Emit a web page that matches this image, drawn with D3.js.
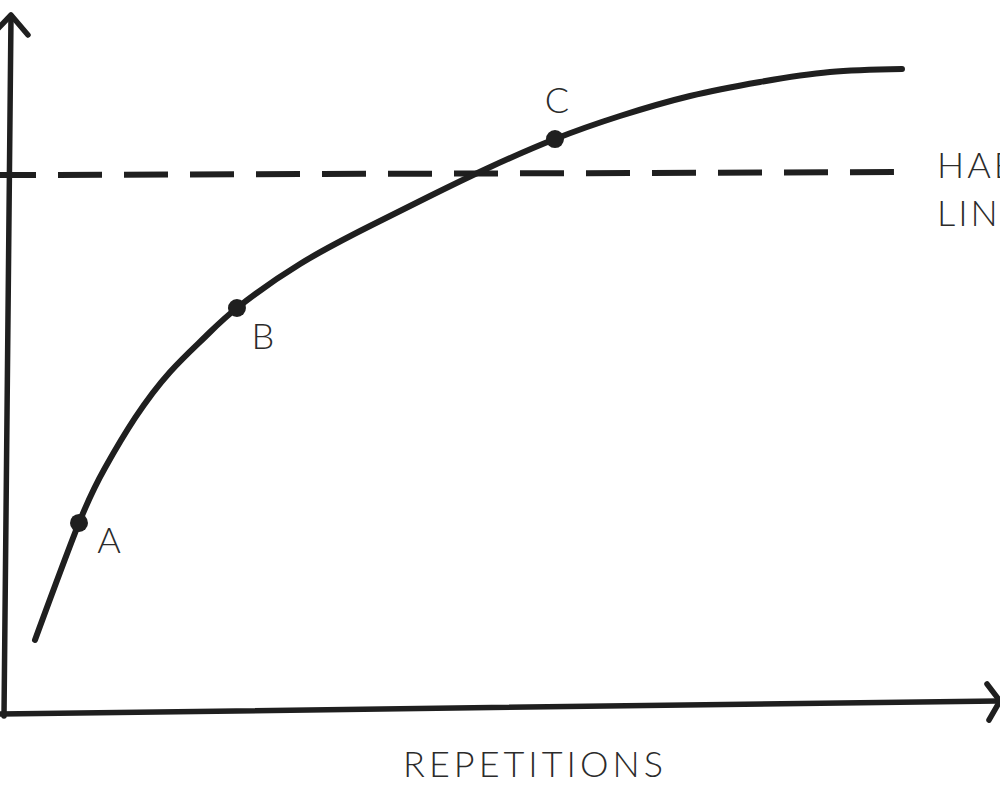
<!DOCTYPE html>
<html>
<head>
<meta charset="utf-8">
<script src="https://cdn.jsdelivr.net/npm/d3@7"></script>
<style>
  html, body { margin: 0; padding: 0; background: #fff; overflow: hidden; }
  svg { display: block; }
</style>
</head>
<body>
<svg id="chart" width="1000" height="800"></svg>
<script>
// ---- data (abstract units: repetitions 0..100, habit strength 0..100) ----
const curveX = [2.55, 7.04, 9.69, 12.76, 16.33, 19.90, 23.16, 29.59, 36.73, 42.86, 48.57, 55.61, 62.24, 69.39, 76.53, 83.67, 91.02];
const curveY = [10.57, 27.29, 35.14, 42.29, 48.86, 53.86, 58.00, 64.29, 69.71, 74.00, 77.86, 82.14, 85.43, 88.29, 90.29, 91.71, 92.14];
const markerLabels = ["A", "B", "C"];
const markerX = [7.04, 23.16, 55.61];
const markerY = [27.29, 58.00, 82.14];
const habitLineValue = 77.2;
const habitLineEnd = 90.2;
const habitLabel = ["HABIT", "LINE"];
const xAxisLabel = "REPETITIONS";

// ---- layout ----
const svg = d3.select("#chart");
const ink = "#1f1f1f";
const textColor = "#2b2b2b";
const x = d3.scaleLinear().domain([0, 100]).range([10, 990]);
const y = d3.scaleLinear().domain([0, 100]).range([714, 14]);

// axes (hand-drawn feel: slight tilt)
const axisG = svg.append("g").attr("stroke", ink).attr("fill", "none")
  .attr("stroke-width", 5.5).attr("stroke-linecap", "round").attr("stroke-linejoin", "round");
// y axis
axisG.append("path").attr("d", `M${x(0) - 6},${y(0) + 2} L${x(0) + 1},${y(100) + 2}`);
axisG.append("path").attr("d", `M${x(0) - 19},${y(100) + 22} L${x(0) + 1},${y(100) + 1} L${x(0) + 18},${y(100) + 21}`);
// x axis
axisG.append("path").attr("d", `M${x(0) - 12},${y(0)} L${x(100) + 8},${y(0) - 13}`);
axisG.append("path").attr("d", `M${x(100) - 3},${y(0) - 30} L${x(100) + 10},${y(0) - 13} L${x(100) - 1},${y(0) + 6}`);

// habit line (dashed)
svg.append("line")
  .attr("x1", x(0) - 10).attr("x2", x(habitLineEnd))
  .attr("y1", y(habitLineValue) + 1.5).attr("y2", y(habitLineValue) - 1.5)
  .attr("stroke", ink).attr("stroke-width", 6)
  .attr("stroke-dasharray", "44,22").attr("stroke-dashoffset", 8)
  .attr("stroke-linecap", "butt");

// curve
const pts = curveX.map((v, i) => [v, curveY[i]]);
const line = d3.line().x(d => x(d[0])).y(d => y(d[1])).curve(d3.curveNatural);
svg.append("path").datum(pts).attr("d", line)
  .attr("fill", "none").attr("stroke", ink).attr("stroke-width", 6)
  .attr("stroke-linecap", "round");

// markers
const markers = markerLabels.map((l, i) => ({ l, x: markerX[i], y: markerY[i] }));
svg.selectAll("circle.m").data(markers).enter().append("circle")
  .attr("class", "m").attr("cx", d => x(d.x)).attr("cy", d => y(d.y)).attr("r", 9)
  .attr("fill", ink);

const font = "Lato, 'Noto Sans', sans-serif";
const labelOffsets = { A: [30, 30], B: [26, 41], C: [2, -26] };
svg.selectAll("text.m").data(markers).enter().append("text")
  .attr("class", "m")
  .attr("x", d => x(d.x) + labelOffsets[d.l][0])
  .attr("y", d => y(d.y) + labelOffsets[d.l][1])
  .attr("text-anchor", "middle")
  .attr("font-family", font).attr("font-weight", 300).attr("font-size", 36)
  .attr("fill", textColor)
  .text(d => d.l);

// habit line label (clipped by the right edge, as in the reference)
svg.selectAll("text.h").data(habitLabel).enter().append("text")
  .attr("class", "h")
  .attr("x", 937).attr("y", (d, i) => y(habitLineValue) + 4 + i * 48)
  .attr("font-family", font).attr("font-weight", 300).attr("font-size", 36)
  .attr("letter-spacing", 3)
  .attr("fill", textColor).text(d => d);

// x axis label
svg.append("text")
  .attr("x", 535).attr("y", 777)
  .attr("text-anchor", "middle")
  .attr("font-family", font).attr("font-weight", 300).attr("font-size", 36)
  .attr("letter-spacing", 4)
  .attr("fill", textColor).text(xAxisLabel);
</script>
</body>
</html>
